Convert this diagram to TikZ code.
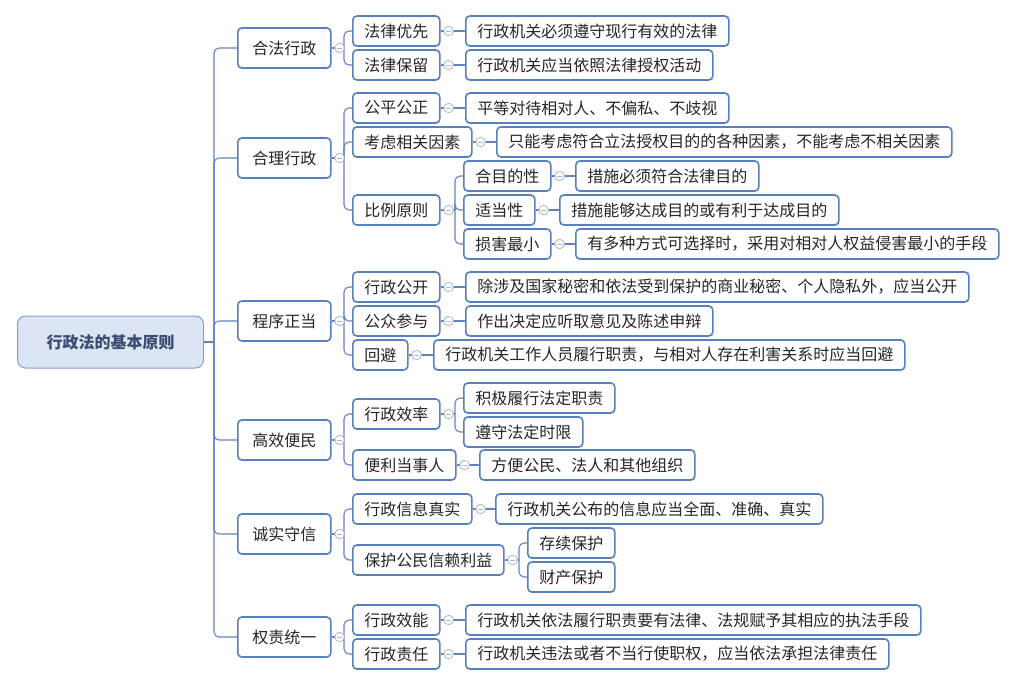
\documentclass[tikz,border=0pt]{standalone}
\usepackage{fontspec}
\newfontfamily\cjk{Noto Sans CJK SC}
\usepackage{xcolor}
\usepackage{tikz}
\usetikzlibrary{positioning,calc}
\definecolor{edgeblue}{RGB}{98,130,192}
\definecolor{boxblue}{RGB}{88,128,192}
\definecolor{foldgray}{RGB}{176,180,206}
\definecolor{rootfill}{RGB}{219,229,243}
\definecolor{rootline}{RGB}{130,158,205}
\definecolor{roottext}{RGB}{58,76,112}
\tikzset{
  box/.style={draw=boxblue, line width=1.6pt, rounded corners=4pt, fill=white,
    minimum height=30pt, inner xsep=11.5pt, inner ysep=0pt, anchor=west,
    font=\cjk\fontsize{16}{18}\selectfont, text=black!85},
  topic/.style={box, minimum height=40pt, inner xsep=14.5pt},
  rootbox/.style={draw=rootline, line width=1pt, rounded corners=8pt, fill=rootfill,
    minimum height=52pt, minimum width=186pt, anchor=west,
    font=\cjk\bfseries\fontsize{16}{18}\selectfont, text=roottext},
  edge/.style={draw=edgeblue, line width=1.1pt, rounded corners=5pt},
  fold/.style={circle, draw=foldgray, fill=white, line width=0.8pt, minimum size=9.5pt,
    inner sep=0pt, path picture={\draw[foldgray, line width=0.8pt]
      ([xshift=2pt]path picture bounding box.west) -- ([xshift=-2pt]path picture bounding box.east);}}
}
\begin{document}
\begin{tikzpicture}[x=1pt, y=-1pt]
    \useasboundingbox (0,0) rectangle (1016,686);

    % Root
    \node[rootbox] (root) at (17,342) {行政法的基本原则};

    % Main principles
    \node[topic] (hefa)    at (237,48)  {合法行政};
    \node[topic] (heli)    at (237,158) {合理行政};
    \node[topic] (chengxu) at (237,321) {程序正当};
    \node[topic] (gaoxiao) at (237,440) {高效便民};
    \node[topic] (chengxin) at (237,534) {诚实守信};
    \node[topic] (quanze)  at (237,637) {权责统一};

    % Sub principles
    \node[box] (youxian) at (352,31)  {法律优先};
    \node[box] (baoliu)  at (352,65)  {法律保留};
    \node[box] (gongping) at (352,108) {公平公正};
    \node[box] (kaolv)   at (352,142) {考虑相关因素};
    \node[box] (bili)    at (352,210) {比例原则};
    \node[box] (gongkai) at (352,287) {行政公开};
    \node[box] (canyu)   at (352,321) {公众参与};
    \node[box] (huibi)   at (352,355) {回避};
    \node[box] (xiaolv)  at (352,414) {行政效率};
    \node[box] (bianli)  at (352,465) {便利当事人};
    \node[box] (zhenshi) at (352,509) {行政信息真实};
    \node[box] (xinlai)  at (352,560) {保护公民信赖利益};
    \node[box] (xiaoneng) at (352,620) {行政效能};
    \node[box] (zeren)   at (352,654) {行政责任};

    % Explanations
    \node[box] (youxian-t) at (465,31)  {行政机关必须遵守现行有效的法律};
    \node[box] (baoliu-t)  at (465,65)  {行政机关应当依照法律授权活动};
    \node[box] (gongping-t) at (465,108) {平等对待相对人、不偏私、不歧视};
    \node[box] (kaolv-t)   at (496,142) {只能考虑符合立法授权目的的各种因素，不能考虑不相关因素};
    \node[box] (mudi)      at (463,176) {合目的性};
    \node[box] (shidang)   at (463,210) {适当性};
    \node[box] (zuixiao)   at (463,244) {损害最小};
    \node[box] (gongkai-t) at (465,287) {除涉及国家秘密和依法受到保护的商业秘密、个人隐私外，应当公开};
    \node[box] (canyu-t)   at (465,321) {作出决定应听取意见及陈述申辩};
    \node[box] (huibi-t)   at (433,355) {行政机关工作人员履行职责，与相对人存在利害关系时应当回避};
    \node[box] (jiji)      at (463,398) {积极履行法定职责};
    \node[box] (shixian)   at (463,432) {遵守法定时限};
    \node[box] (bianli-t)  at (479,465) {方便公民、法人和其他组织};
    \node[box] (zhenshi-t) at (495,509) {行政机关公布的信息应当全面、准确、真实};
    \node[box] (cunxu)     at (527,543) {存续保护};
    \node[box] (caichan)   at (527,577) {财产保护};
    \node[box] (xiaoneng-t) at (465,620) {行政机关依法履行职责要有法律、法规赋予其相应的执法手段};
    \node[box] (zeren-t)   at (465,654) {行政机关违法或者不当行使职权，应当依法承担法律责任};

    % Proportionality details
    \node[box] (mudi-t)    at (575,176) {措施必须符合法律目的};
    \node[box] (shidang-t) at (559,210) {措施能够达成目的或有利于达成目的};
    \node[box] (zuixiao-t) at (575,244) {有多种方式可选择时，采用对相对人权益侵害最小的手段};

    % Trunk from root
    \draw[edge] (root.east) -- ([xshift=-23pt]hefa.west |- root.east);
    \foreach \t in {hefa,heli,chengxu,gaoxiao,chengxin,quanze}
        \draw[edge] ([xshift=-23pt]\t.west |- root.east) |- (\t.west);

    % Branches with several children
    \foreach \p/\c in {hefa/youxian, hefa/baoliu, heli/gongping, heli/kaolv, heli/bili,
        chengxu/gongkai, chengxu/canyu, chengxu/huibi, gaoxiao/xiaolv, gaoxiao/bianli,
        chengxin/zhenshi, chengxin/xinlai, quanze/xiaoneng, quanze/zeren,
        bili/mudi, bili/shidang, bili/zuixiao, xiaolv/jiji, xiaolv/shixian,
        xinlai/cunxu, xinlai/caichan} {
        \draw[edge] (\p.east) -- ([xshift=-8pt]\c.west |- \p.east);
        \draw[edge] ([xshift=-8pt]\c.west |- \p.east) |- (\c.west);
    }

    % Single leaves
    \foreach \p in {youxian,baoliu,gongping,kaolv,gongkai,canyu,huibi,bianli,zhenshi,
        xiaoneng,zeren,mudi,shidang,zuixiao}
        \draw[edge] (\p.east) -- (\p-t.west);

    % Collapse marks
    \foreach \p in {hefa,heli,chengxu,gaoxiao,chengxin,quanze,youxian,baoliu,gongping,
        kaolv,bili,gongkai,canyu,huibi,xiaolv,bianli,zhenshi,xinlai,xiaoneng,zeren,
        mudi,shidang,zuixiao}
        \node[fold] (fold-\p) at ([xshift=8pt]\p.east) {};
\end{tikzpicture}
\end{document}
